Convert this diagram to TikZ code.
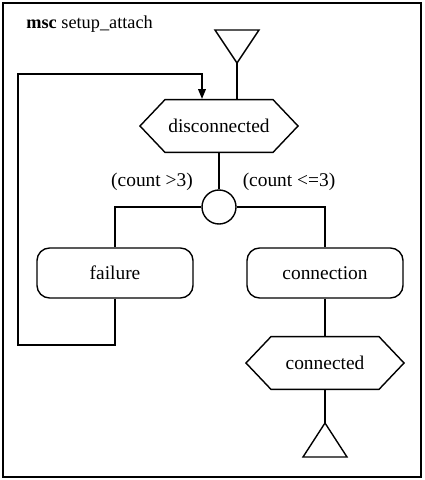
\documentclass[tikz,border=0pt]{standalone}
\usepackage{fontspec}
\setmainfont{Liberation Serif}
\usetikzlibrary{shapes.symbols,arrows.meta}

\begin{document}
\begin{tikzpicture}[x=0.025cm,y=-0.025cm,line width=1pt,font=\fontsize{13.8}{16}\selectfont,
	state/.style={signal,signal to=west and east,signal pointer angle=93,draw,minimum width=3.95cm,minimum height=1.32cm,inner sep=0pt},
	action/.style={draw,rounded corners=9pt,minimum width=3.9cm,minimum height=1.25cm},
	decision/.style={circle,draw,minimum size=0.85cm,inner sep=0pt}]
	\useasboundingbox (0,0) rectangle (424,480);
	\draw[line width=1.4pt] (3,3) rectangle (421,477);
	\node[anchor=west,font=\fontsize{13}{15}\selectfont] (title) at (21,24) {\textbf{msc} setup\_attach};
	
	\coordinate (start) at (237,63);
	\draw (start) -- ++(-22,-33) -- ++(44,0) -- cycle;
	\node[state] (disc) at (219,126) {disconnected};
	\node[decision] (dec) at (219,207) {};
	\node[action] (fail) at (115,273) {failure};
	\node[action] (conn) at (325,273) {connection};
	\node[state] (cond) at (325,363) {connected};
	\coordinate (stop) at (325,423);
	\draw (stop) -- ++(-22,34) -- ++(44,0) -- cycle;
	\coordinate (back) at (202,74);
	
	\node (gt) at (152,182) {(count >3)};
	\node (le) at (289,182) {(count <=3)};
	
	\draw (start) -- (start |- disc.north);
	\draw (disc.south) -- (dec.north);
	\draw (dec.west) -| (fail.north);
	\draw (dec.east) -| (conn.north);
	\draw (conn.south) -- (cond.north);
	\draw (cond.south) -- (stop);
	\draw[-{Triangle[length=7pt,width=5.5pt]}] (fail.south) |- (18,345) |- (back) -- (back |- disc.north);
\end{tikzpicture}
\end{document}
